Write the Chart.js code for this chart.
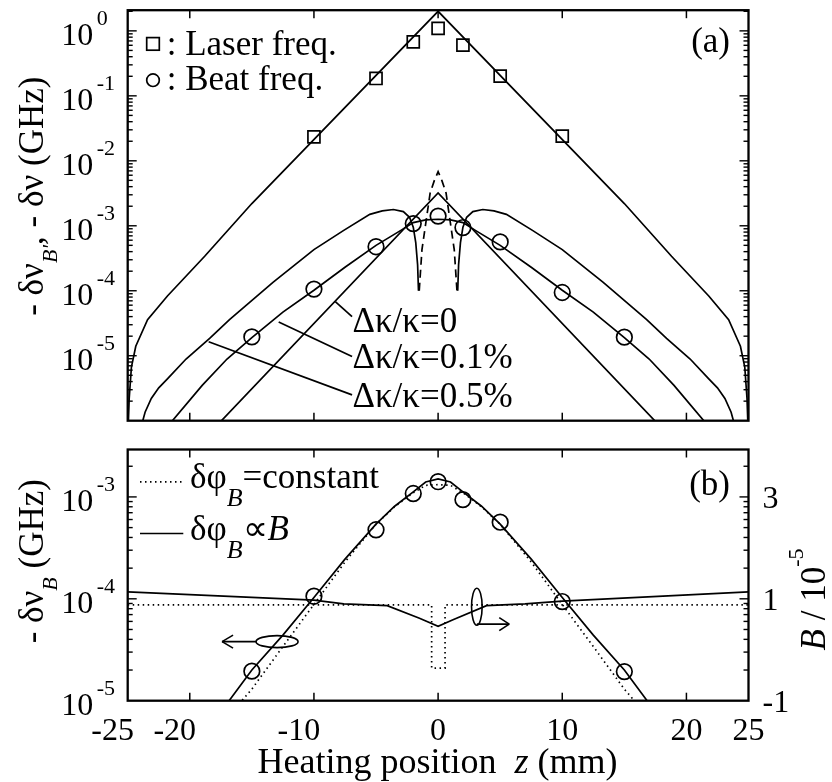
<!DOCTYPE html>
<html>
<head>
<meta charset="utf-8">
<script src="https://cdn.jsdelivr.net/npm/chart.js@4.4.1/dist/chart.umd.min.js"></script>
<style>
body{margin:0;background:#fff;}
#wrap{position:relative;width:832px;height:782px;background:#fff;}
canvas{position:absolute;left:0;}
#chartA{top:0;}
#chartB{top:440px;}
</style>
</head>
<body>
<div id="wrap">
<canvas id="chartA" width="832" height="440"></canvas>
<canvas id="chartB" width="832" height="342"></canvas>
</div>
<script>
// measured points (both panels share the beat-frequency circles)
const zBeat=[-15,-10,-5,-2,0,2,5,10,15]
const beatFreq=[1.95e-5,1.06e-4,4.76e-4,1.08e-3,1.41e-3,9.4e-4,5.65e-4,9.4e-5,1.93e-5]
const zLaser=[-10,-5,-2,0,2,5,10]
const laserFreq=[0.0234,0.185,0.678,1.09,0.603,0.201,0.024]

// panel (a) calculated curves
const zLaserFit=[-24.96,-24.88,-24.7,-24.35,-23.4,-21.8,-18.8,-15,0,15,18.8,21.8,23.4,24.35,24.7,24.88,24.96]
const laserFit=[8e-7,2.2e-6,6.7e-6,1.4e-5,3.6e-5,8.3e-5,3.4e-4,2.2e-3,2.0,2.2e-3,3.4e-4,8.3e-5,3.6e-5,1.4e-5,6.7e-6,2.2e-6,8e-7]
const zKappa0=[-17.8,0,17.8]
const kappa0=[8.5e-7,3.2e-3,8.5e-7]
const zKappa01=[-21.6,-19,-17,-15,-12.5,-10,-7.5,-5,-3,-2,-1,0,1,2,3,5,7.5,10,12.5,15,17,19,21.6]
const kappa01=[9e-7,3.5e-6,8.9e-6,1.9e-5,4.7e-5,1.02e-4,2.3e-4,5.0e-4,8.5e-4,1.12e-3,1.23e-3,1.26e-3,1.23e-3,1.12e-3,8.5e-4,5.0e-4,2.3e-4,1.02e-4,4.7e-5,1.9e-5,8.9e-6,3.5e-6,9e-7]
const zKappa05=[-23.85,-23.6,-23.1,-22.5,-21.8,-20.3,-18.4,-16.8,-13.3,-10,-7.6,-5.5,-4.5,-3.6,-2.8,-2.3,-2.0,-1.8,-1.65,-1.58,0,1.58,1.65,1.8,2.0,2.3,2.8,3.6,4.5,5.5,7.6,10,13.3,16.8,18.4,20.3,21.8,22.5,23.1,23.6,23.85]
const kappa05=[9e-7,1.35e-6,2.2e-6,3.2e-6,4.4e-6,8.9e-6,1.85e-5,3.6e-5,1.35e-4,4.3e-4,8.5e-4,1.5e-3,1.7e-3,1.78e-3,1.65e-3,1.35e-3,9.5e-4,5.5e-4,2.5e-4,1.0e-4,null,1.0e-4,2.5e-4,5.5e-4,9.5e-4,1.35e-3,1.65e-3,1.78e-3,1.7e-3,1.5e-3,8.5e-4,4.3e-4,1.35e-4,3.6e-5,1.85e-5,8.9e-6,4.4e-6,3.2e-6,2.2e-6,1.35e-6,9e-7]
const zKappa05In=[-1.52,-1.3,-1.04,-0.64,-0.3,0,0.3,0.64,1.04,1.3,1.52]
const kappa05In=[1.0e-4,4.3e-4,9.5e-4,3.2e-3,5.0e-3,6.8e-3,5.0e-3,3.2e-3,9.5e-4,4.3e-4,1.0e-4]

// panel (b) curves
const zPhiProp=[-17.2,-15,-12.5,-10,-7.5,-5,-3.5,-2,-1,0,1,2,3.5,5,7.5,10,12.5,15,17.2]
const phiProp=[8.7e-6,2.0e-5,4.4e-5,1.03e-4,2.45e-4,5.4e-4,8.1e-4,1.12e-3,1.4e-3,1.5e-3,1.4e-3,1.12e-3,8.1e-4,5.4e-4,2.45e-4,1.03e-4,4.4e-5,2.0e-5,8.7e-6]
const zPhiConst=[-16.3,-15,-12.5,-10,-7.5,-5,-3.5,-2,-1,0,1,2,3.5,5,7.5,10,12.5,15,16.3]
const phiConst=[8.5e-6,1.3e-5,3.4e-5,8.8e-5,2.3e-4,5.4e-4,8.0e-4,1.1e-3,1.3e-3,1.32e-3,1.3e-3,1.1e-3,8.0e-4,5.4e-4,2.3e-4,8.8e-5,3.4e-5,1.3e-5,8.5e-6]
const zBProp=[-25,-10,-7.6,-4.1,-1.5,0,1.2,3.9,7,10,25]
const bProp=[1.135,0.975,0.9,0.866,0.62,0.46,0.59,0.866,0.9,0.956,1.135]
const zBConst=[-25,-0.52,-0.52,0.56,0.56,25]
const bConst=[0.88,0.88,-0.36,-0.36,0.88,0.88]

// ticks
const xTicks=[-25,-20,-10,0,10,20,25]
const yExpA=[0,-1,-2,-3,-4,-5]
const yExpB=[-3,-4,-5]
const y2Ticks=[-1,1,3]
const kappaLabels=["Δκ/κ=0","Δκ/κ=0.1%","Δκ/κ=0.5%"]

const serif='"Liberation Serif","Times New Roman",serif'
const black="#000"
function fnt(s,it){return (it?"italic ":"")+s+"px "+serif}
const pts=(zs,vs)=>zs.map((x,i)=>({x:x,y:vs[i]}))
function curve(zs,vs,extra){
return Object.assign({data:pts(zs,vs),showLine:true,borderColor:black,borderWidth:1.7,pointRadius:0,tension:0,spanGaps:false},extra||{})
}
function marks(zs,vs,style,r,extra){
return Object.assign({data:pts(zs,vs),showLine:false,pointStyle:style,pointRadius:r,pointBorderColor:black,pointBorderWidth:1.7,pointBackgroundColor:"rgba(0,0,0,0)"},extra||{})
}
function line(ctx,x1,y1,x2,y2){ctx.beginPath();ctx.moveTo(x1,y1);ctx.lineTo(x2,y2);ctx.stroke()}
function richWidth(ctx,runs,base){let w=0;for(const r of runs){ctx.font=fnt(r.s||base,r.i);w+=ctx.measureText(r.t).width}return w}
function drawRich(ctx,runs,x,y,align,base){
const w=richWidth(ctx,runs,base)
let cx=align==="center"?x-w/2:align==="right"?x-w:x
ctx.textAlign="left";ctx.textBaseline="alphabetic"
for(const r of runs){ctx.font=fnt(r.s||base,r.i);ctx.fillText(r.t,cx,y+(r.dy||0));cx+=ctx.measureText(r.t).width}
}
function rotRich(ctx,runs,x,y,base){ctx.save();ctx.translate(x,y);ctx.rotate(-Math.PI/2);drawRich(ctx,runs,0,0,"center",base);ctx.restore()}
function frame(ctx,a){ctx.lineWidth=2.3;ctx.strokeRect(a.left,a.top,a.right-a.left,a.bottom-a.top)}
function xTickMarks(ctx,xs,a){
ctx.lineWidth=1.5
for(const v of xTicks){if(v<=xs.min||v>=xs.max)continue;const px=xs.getPixelForValue(v);line(ctx,px,a.bottom,px,a.bottom-8);line(ctx,px,a.top,px,a.top+8)}
}
function logTickMarks(ctx,ys,a){
ctx.lineWidth=1.4
const lo=Math.floor(Math.log10(ys.min)),hi=Math.ceil(Math.log10(ys.max))
for(let e=lo;e<=hi;e++)for(let m=1;m<=9;m++){
const v=m*Math.pow(10,e)
if(v<ys.min*1.0001||v>ys.max*0.9999)continue
const py=ys.getPixelForValue(v),len=m===1?9:5
line(ctx,a.left,py,a.left+len,py);line(ctx,a.right,py,a.right-len,py)
}
}
function powLabels(ctx,ys,a,exps){
for(const e of exps){
const py=ys.getPixelForValue(Math.pow(10,e))
ctx.font=fnt(32);ctx.textAlign="right";ctx.textBaseline="alphabetic";ctx.fillText("10",a.left-34.4,py+14)
ctx.font=fnt(22);ctx.textAlign="left";ctx.fillText(String(e),a.left-31,py-6)
}
}

const decorA={id:"decorA",afterDraw(chart){
const ctx=chart.ctx,a=chart.chartArea,xs=chart.scales.x,ys=chart.scales.y
ctx.save();ctx.strokeStyle=black;ctx.fillStyle=black
frame(ctx,a);xTickMarks(ctx,xs,a);logTickMarks(ctx,ys,a)
powLabels(ctx,ys,a,yExpA)
rotRich(ctx,[{t:"- δν"},{t:"B'",i:true,s:22,dy:14},{t:", - δν (GHz)"}],a.left-84.7,a.top+186,35)
// legend
ctx.lineWidth=1.7
ctx.strokeRect(a.left+19,a.top+27.4,12.6,12.6)
ctx.beginPath();ctx.arc(a.left+25.3,a.top+70,6.3,0,2*Math.PI);ctx.stroke()
drawRich(ctx,[{t:": Laser freq."}],a.left+39,a.top+45,"left",35)
drawRich(ctx,[{t:": Beat freq."}],a.left+39,a.top+80,"left",35)
drawRich(ctx,[{t:"(a)"}],a.right-18.5,a.top+42,"right",35)
// pointers to the three beat curves
const ptr=[[-8.28,6.8e-5,-6.93,4.0e-5,2.34e-5],[-12.84,3.3e-5,-6.93,9.7e-6,6.46e-6],[-18.48,1.64e-5,-6.93,2.5e-6,1.64e-6]]
ptr.forEach((p,i)=>{
line(ctx,xs.getPixelForValue(p[0]),ys.getPixelForValue(p[1]),xs.getPixelForValue(p[2]),ys.getPixelForValue(p[3]))
drawRich(ctx,[{t:kappaLabels[i]}],xs.getPixelForValue(-6.9),ys.getPixelForValue(p[4]),"left",35)
})
ctx.restore()
}}

const decorB={id:"decorB",afterDraw(chart){
const ctx=chart.ctx,a=chart.chartArea,xs=chart.scales.x,ys=chart.scales.y,y2=chart.scales.y2
ctx.save();ctx.strokeStyle=black;ctx.fillStyle=black
frame(ctx,a);xTickMarks(ctx,xs,a);logTickMarks(ctx,ys,a)
powLabels(ctx,ys,a,yExpB)
ctx.font=fnt(32);ctx.textAlign="left";ctx.textBaseline="alphabetic"
for(const v of y2Ticks)ctx.fillText(String(v),a.right+14,y2.getPixelForValue(v)+11)
ctx.textAlign="center"
for(const v of xTicks)ctx.fillText(String(v),xs.getPixelForValue(v)+(v<0?-15:0),a.bottom+39.3)
drawRich(ctx,[{t:"Heating position  "},{t:"z",i:true},{t:" (mm)"}],(a.left+a.right)/2-0.6,a.bottom+72.3,"center",36)
rotRich(ctx,[{t:"- δν"},{t:"B",i:true,s:22,dy:14},{t:" (GHz)"}],a.left-84.7,a.top+111.7,35)
rotRich(ctx,[{t:"B",i:true},{t:" / 10"},{t:"-5",s:22,dy:-22}],a.right+76.5,a.top+150,35)
drawRich(ctx,[{t:"(b)"}],a.right-18.5,a.top+45,"right",35)
// legend
ctx.lineWidth=1.7
ctx.setLineDash([1.5,3.5]);line(ctx,a.left+12.3,a.top+32.3,a.left+57.3,a.top+32.3)
ctx.setLineDash([]);line(ctx,a.left+12.3,a.top+84,a.left+55.6,a.top+84)
drawRich(ctx,[{t:"δφ"},{t:"B",i:true,s:26,dy:18},{t:"=constant"}],a.left+62.3,a.top+38.3,"left",35)
drawRich(ctx,[{t:"δφ"},{t:"B",i:true,s:26,dy:18},{t:"∝"},{t:"B",i:true}],a.left+62.3,a.top+90,"left",35)
// axis markers: ellipse + arrow
ctx.lineWidth=1.6
const e1x=xs.getPixelForValue(-12.97),e1y=ys.getPixelForValue(3.8e-5)
ctx.beginPath();ctx.ellipse(e1x,e1y,21,6,0,0,2*Math.PI);ctx.stroke()
const t1=xs.getPixelForValue(-17.4)
line(ctx,e1x-21,e1y,t1,e1y);line(ctx,t1,e1y,t1+11,e1y-6.5);line(ctx,t1,e1y,t1+11,e1y+6.5)
const e2x=xs.getPixelForValue(3.12),e2y=y2.getPixelForValue(0.846)
ctx.beginPath();ctx.ellipse(e2x,e2y,5.3,18.5,0,0,2*Math.PI);ctx.stroke()
const ay=y2.getPixelForValue(0.504),t2=xs.getPixelForValue(5.73)
line(ctx,e2x,ay,t2,ay);line(ctx,t2,ay,t2-10,ay-6.5);line(ctx,t2,ay,t2-10,ay+6.5)
ctx.restore()
}}

const common={responsive:false,animation:false,events:[],plugins:{legend:{display:false},tooltip:{enabled:false}}}

new Chart(document.getElementById("chartA"),{
type:"scatter",
data:{datasets:[
curve(zLaserFit,laserFit),
curve(zKappa0,kappa0),
curve(zKappa01,kappa01),
curve(zKappa05,kappa05),
curve(zKappa05In,kappa05In,{borderDash:[8,5]}),
marks(zLaser,laserFreq,"rect",8.5),
marks(zBeat,beatFreq,"circle",7.8)
]},
options:Object.assign({},common,{
layout:{padding:{left:127.7,right:83.5,top:10,bottom:19.3}},
scales:{
x:{type:"linear",min:-25,max:25,bounds:"data",display:false},
y:{type:"logarithmic",min:1e-6,max:2.08,bounds:"data",display:false}
}
}),
plugins:[decorA]
})

new Chart(document.getElementById("chartB"),{
type:"scatter",
data:{datasets:[
curve(zPhiProp,phiProp),
curve(zPhiConst,phiConst,{borderDash:[1.5,3.5]}),
curve(zBProp,bProp,{yAxisID:"y2"}),
curve(zBConst,bConst,{yAxisID:"y2",borderDash:[1.5,3.5]}),
marks(zBeat,beatFreq,"circle",7.8)
]},
options:Object.assign({},common,{
layout:{padding:{left:127.7,right:83.5,top:5,bottom:81.3}},
scales:{
x:{type:"linear",min:-25,max:25,bounds:"data",display:false},
y:{type:"logarithmic",min:1e-5,max:2.92e-3,bounds:"data",display:false},
y2:{type:"linear",position:"right",min:-1,max:3.932,bounds:"data",display:false}
}
}),
plugins:[decorB]
})
</script>
</body>
</html>
